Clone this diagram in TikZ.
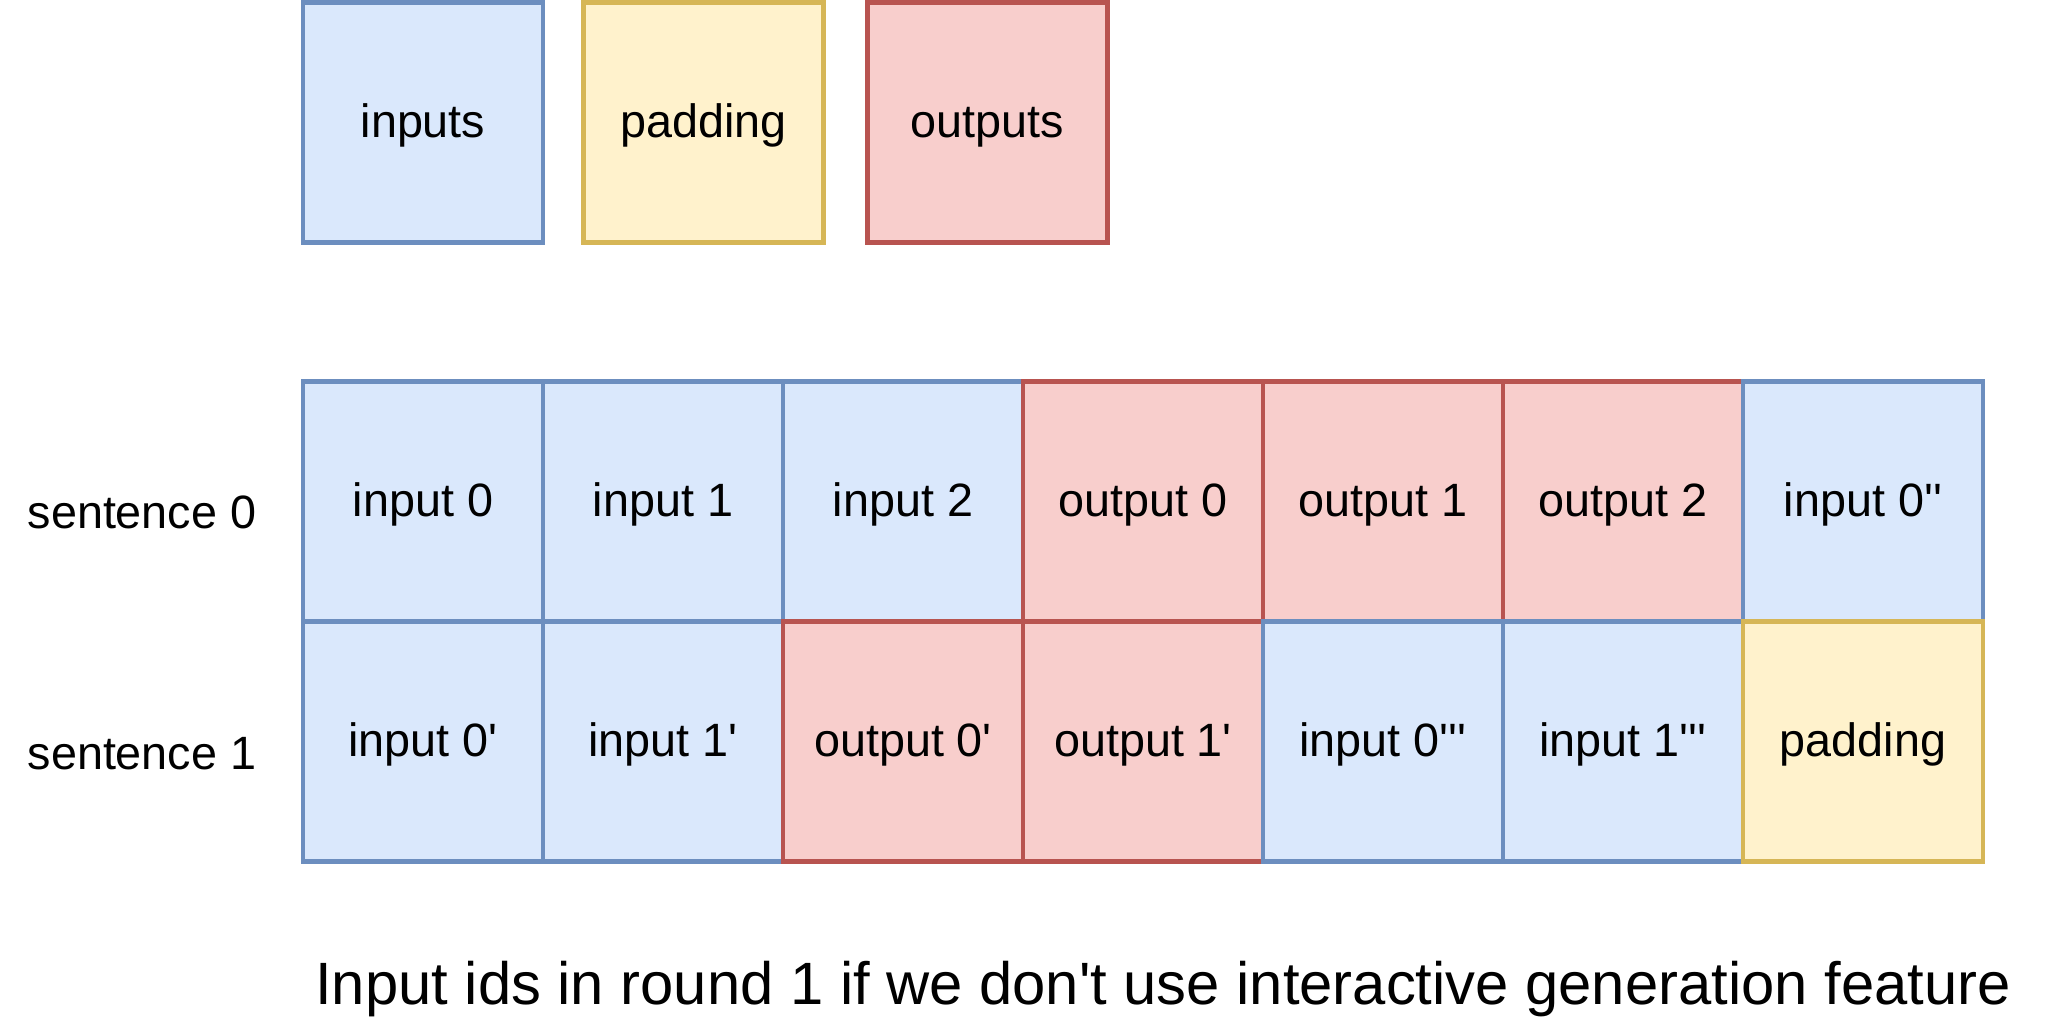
\documentclass[tikz,border=0pt]{standalone}
\usepackage{fontspec}
\setmainfont{Liberation Sans}
\usepackage{xcolor}
\usetikzlibrary{positioning}
\definecolor{inblue}{HTML}{DAE8FC}
\definecolor{inbluedraw}{HTML}{6C8EBF}
\definecolor{padyellow}{HTML}{FFF2CC}
\definecolor{padyellowdraw}{HTML}{D6B656}
\definecolor{outred}{HTML}{F8CECC}
\definecolor{outreddraw}{HTML}{B85450}
\newcommand{\tq}{\textquotesingle}

\tikzset{
    cell/.style={rectangle, minimum width=2.4cm, minimum height=2.4cm, inner sep=0pt,
        outer sep=0pt, line width=1.2pt, text height=0.85em, text depth=0pt,
        font=\fontsize{13.3}{16}\selectfont},
    incell/.style={cell, fill=inblue, draw=inbluedraw},
    padcell/.style={cell, fill=padyellow, draw=padyellowdraw},
    outcell/.style={cell, fill=outred, draw=outreddraw},
    rowlabel/.style={font=\fontsize{13.3}{16}\selectfont}
}

\begin{document}
\begin{tikzpicture}
        \useasboundingbox (0,0) rectangle (20.48,-10.24);

        % legend
        \node[incell] (leginputs) at (4.23, -1.225) {inputs};
        \node[padcell] (legpadding) at (7.035, -1.225) {padding};
        \node[outcell] (legoutputs) at (9.875, -1.225) {outputs};

        % sentence 0
        \node[incell] (s0c0) at (4.23, -5.015) {input 0};
        \node[incell, right=0pt of s0c0] (s0c1) {input 1};
        \node[incell, right=0pt of s0c1] (s0c2) {input 2};
        \node[outcell, right=0pt of s0c2] (s0c3) {output 0};
        \node[outcell, right=0pt of s0c3] (s0c4) {output 1};
        \node[outcell, right=0pt of s0c4] (s0c5) {output 2};
        \node[incell, right=0pt of s0c5] (s0c6) {input 0\tq\tq};

        % sentence 1
        \node[incell, below=0pt of s0c0] (s1c0) {input 0\tq};
        \node[incell, right=0pt of s1c0] (s1c1) {input 1\tq};
        \node[outcell, right=0pt of s1c1] (s1c2) {output 0\tq};
        \node[outcell, right=0pt of s1c2] (s1c3) {output 1\tq};
        \node[incell, right=0pt of s1c3] (s1c4) {input 0\tq\tq\tq};
        \node[incell, right=0pt of s1c4] (s1c5) {input 1\tq\tq\tq};
        \node[padcell, right=0pt of s1c5] (s1c6) {padding};

        \node[rowlabel] (sent0) at (1.42, -5.12) {sentence 0};
        \node[rowlabel] (sent1) at (1.42, -7.54) {sentence 1};

        \node[font=\fontsize{17}{20}\selectfont] (caption) at (11.63, -9.89)
            {Input ids in round 1 if we don\tq t use interactive generation feature};
    \end{tikzpicture}
\end{document}
